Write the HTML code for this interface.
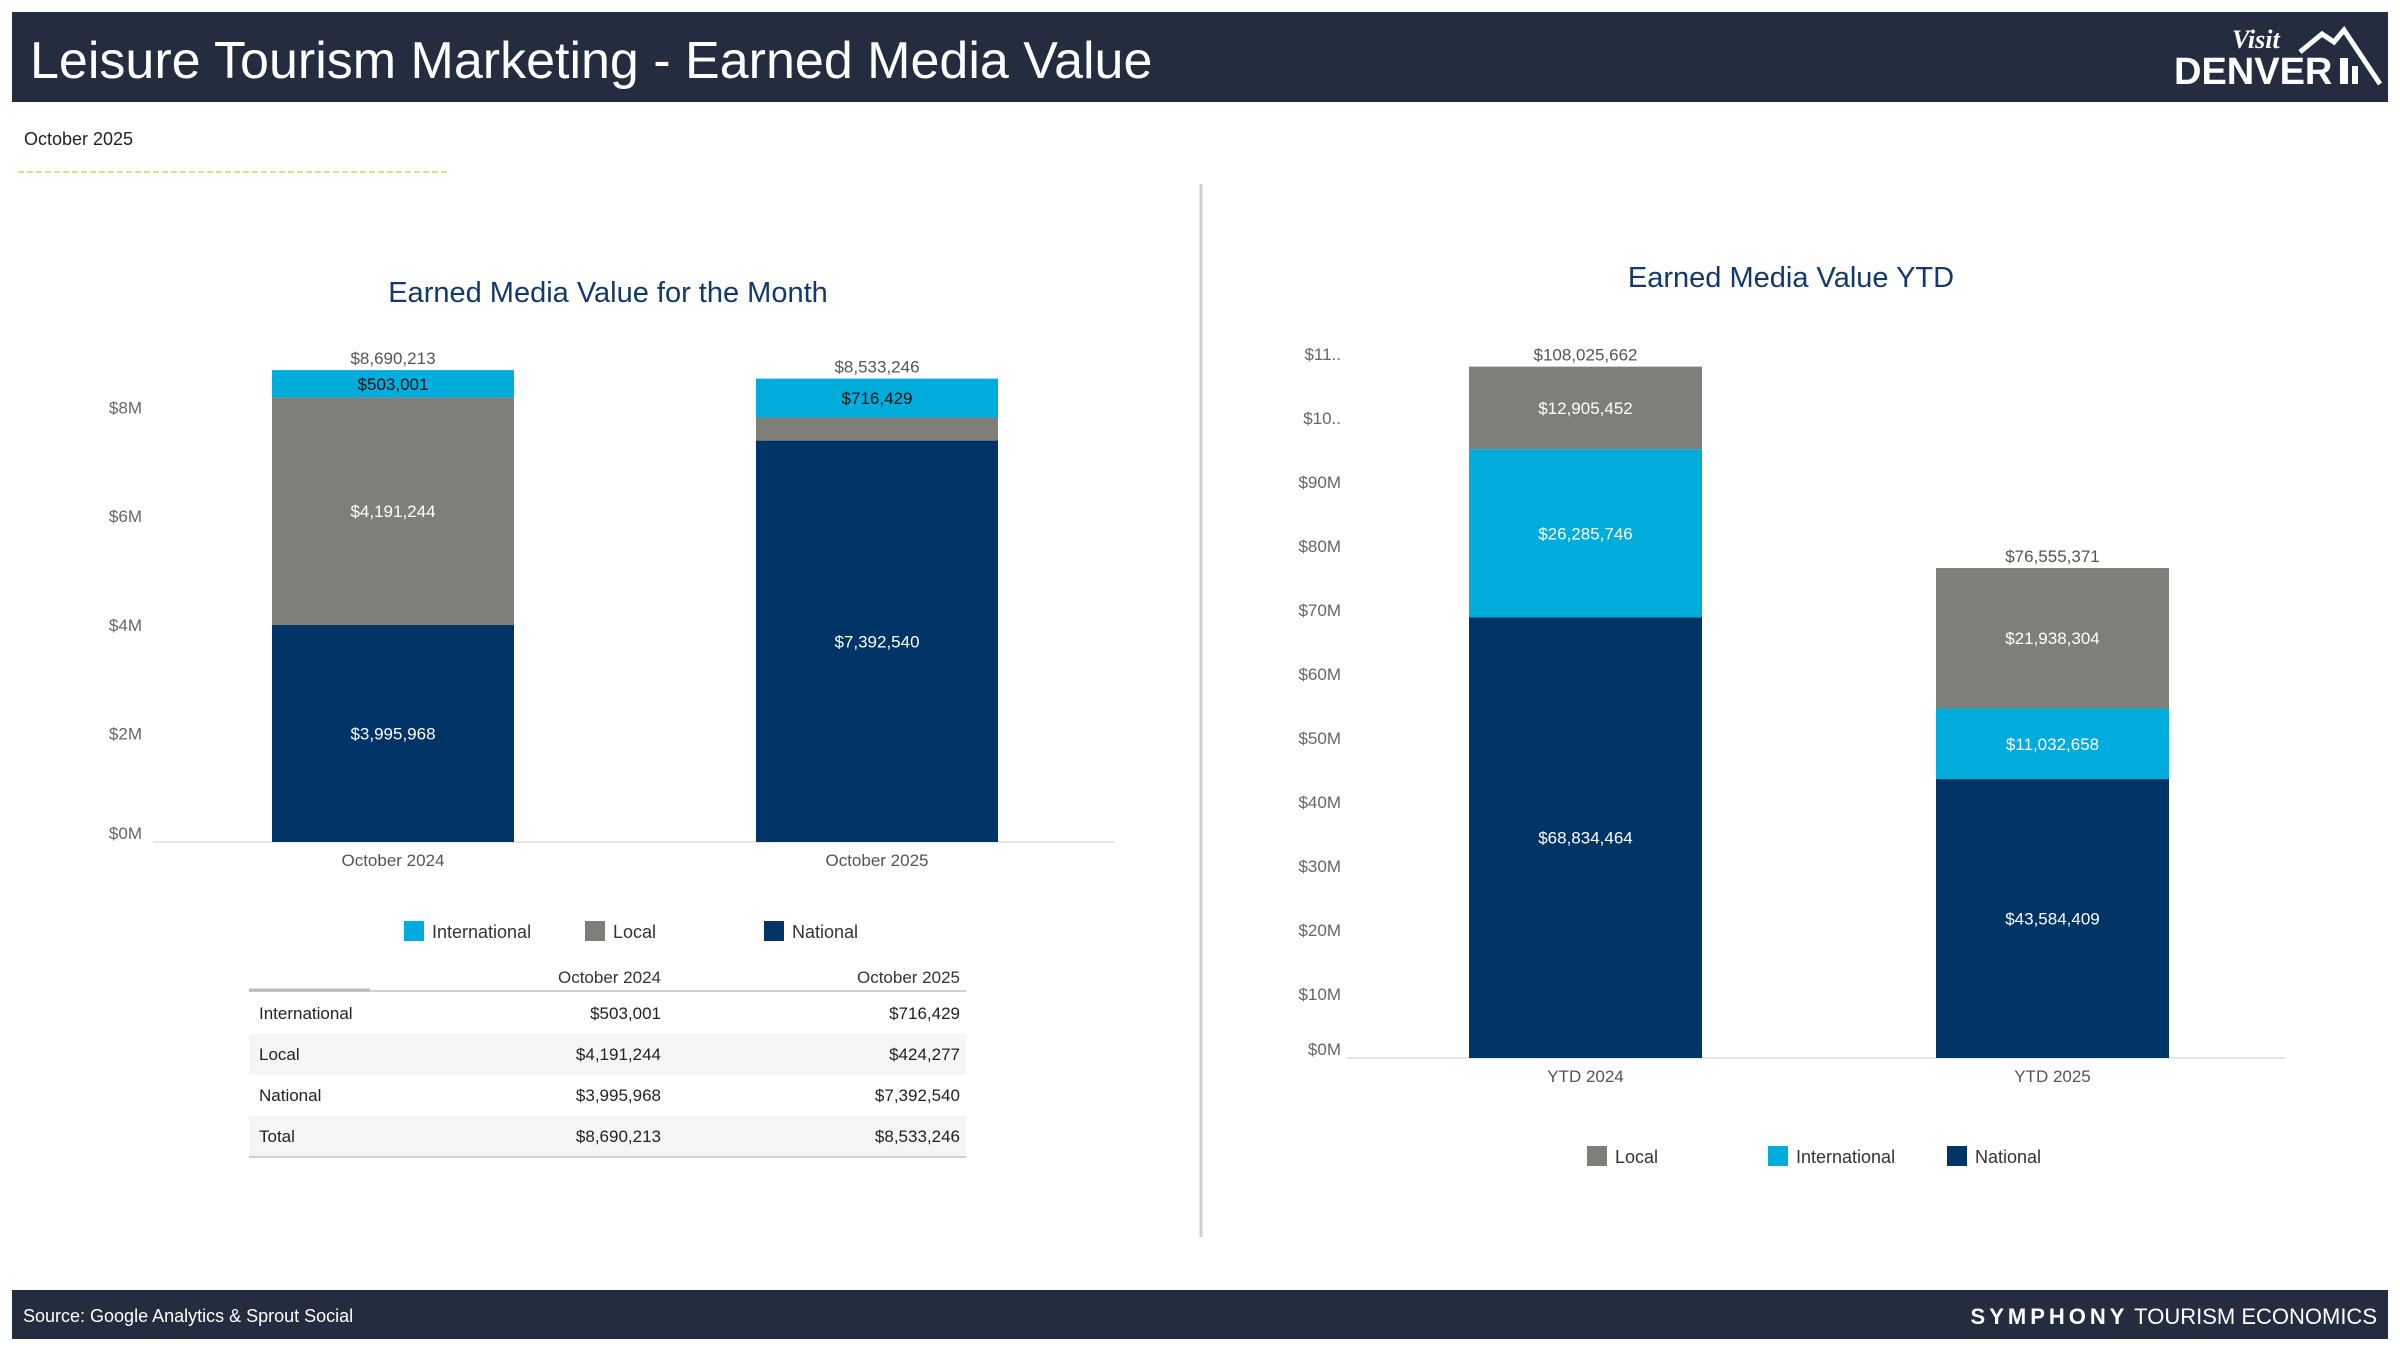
<!DOCTYPE html>
<html><head><meta charset="utf-8"><style>
html,body{margin:0;padding:0;background:#fff;}
svg{display:block;font-family:"Liberation Sans",sans-serif;}
</style></head><body>
<svg id="s" width="2400" height="1350" viewBox="0 0 2400 1350" xmlns="http://www.w3.org/2000/svg">
<rect x="12" y="12" width="2376" height="90" fill="#232d3f"/>
<text x="30" y="78" font-size="52" fill="#fff">Leisure Tourism Marketing - Earned Media Value</text>
<g>
<text x="2232" y="48" font-size="26" font-style="italic" font-weight="bold" fill="#fff" font-family="Liberation Serif,serif">Visit</text>
<text x="2174" y="84" font-size="38" font-weight="bold" fill="#fff">DENVER</text>
<polyline points="2300,52 2322,34 2334,42 2344,30 2380,84" fill="none" stroke="#fff" stroke-width="5"/>
<rect x="2340" y="58" width="8" height="26" fill="#fff"/><rect x="2352" y="66" width="6" height="18" fill="#fff"/>
</g>
<text x="24" y="145" font-size="18" fill="#222">October 2025</text>
<line x1="18" y1="172" x2="447" y2="172" stroke="#e8d890" stroke-width="2" stroke-dasharray="6,3"/>
<line x1="1201" y1="184" x2="1201" y2="1237" stroke="#d0d0d0" stroke-width="3"/>
<text x="608" y="302" font-size="29" fill="#13386b" text-anchor="middle">Earned Media Value for the Month</text>
<text x="1791" y="287" font-size="29" fill="#13386b" text-anchor="middle">Earned Media Value YTD</text>
<g id="left"></g><g id="right"></g><g id="tbl"></g>
<rect x="12" y="1290" width="2376" height="49" fill="#232d3f"/>
<text x="23" y="1322" font-size="18" fill="#fff">Source: Google Analytics &amp; Sprout Social</text>
<text x="2377" y="1324" font-size="22" fill="#fff" text-anchor="end"><tspan font-weight="bold" letter-spacing="4">SYMPHONY</tspan> TOURISM ECONOMICS</text>
</svg>
<script>
const NS="http://www.w3.org/2000/svg";
const COL={International:"#00acdc",Local:"#7f7f7a",National:"#003366"};
// Month chart data
const monthCats=["October 2024","October 2025"];
const monthNational=[3995968,7392540];
const monthLocal=[4191244,424277];
const monthIntl=[503001,716429];
const monthTicks=[0,2,4,6,8];
const monthTickLabels=["$0M","$2M","$4M","$6M","$8M"];
// YTD chart data
const ytdCats=["YTD 2024","YTD 2025"];
const ytdNational=[68834464,43584409];
const ytdIntl=[26285746,11032658];
const ytdLocal=[12905452,21938304];
const ytdTicks=[0,10,20,30,40,50,60,70,80,90,100,110];
const ytdTickLabels=["$0M","$10M","$20M","$30M","$40M","$50M","$60M","$70M","$80M","$90M","$10..","$11.."];

function el(p,t,a,txt){const e=document.createElementNS(NS,t);for(const k in a)e.setAttribute(k,a[k]);if(txt!==undefined)e.textContent=txt;p.appendChild(e);return e;}
function fmt(v){return "$"+v.toLocaleString("en-US");}

function chart(g,cfg){
  const y=v=>cfg.y0-v*cfg.pxPer;
  el(g,"line",{x1:cfg.ax0,x2:cfg.ax1,y1:cfg.y0,y2:cfg.y0,stroke:"#e6e6e6","stroke-width":2});
  cfg.ticks.forEach((t,i)=>{
    const ty=Math.min(y(t*1e6)+6,cfg.y0-3);
    const e=el(g,"text",{x:cfg.tx,y:ty,"font-size":17,fill:"#666","text-anchor":"end"},cfg.tickLabels[i]);
    
    
  });
  cfg.cats.forEach((c,i)=>{
    const x=cfg.bx[i];let base=0;
    cfg.series.forEach(s=>{
      const v=s.vals[i];
      const r=el(g,"rect",{x:x,y:y(base+v),width:cfg.bw,height:v*cfg.pxPer,fill:COL[s.name]});
      
      
      if(v*cfg.pxPer>25){
        const t=el(g,"text",{x:x+cfg.bw/2,y:y(base+v/2)+6,"font-size":17,fill:(s.dark?"#111":"#fff"),"text-anchor":"middle"},fmt(v));
        
        
      }
      base+=v;
    });
    const tt=el(g,"text",{x:x+cfg.bw/2,y:y(base)-6,"font-size":17,fill:"#555","text-anchor":"middle"},fmt(base));
    
    
    const cl=el(g,"text",{x:x+cfg.bw/2,y:cfg.y0+24,"font-size":17,fill:"#555","text-anchor":"middle"},c);
    
    
  });
  cfg.legend.forEach(l=>{
    const r=el(g,"rect",{x:l.x,y:cfg.ly-10,width:20,height:20,fill:COL[l.name]});
    
    
    const t=el(g,"text",{x:l.x+28,y:cfg.ly+7,"font-size":18,fill:"#333"},l.name);
    
    
  });
}
chart(document.getElementById("left"),{y0:842,pxPer:54.3/1e6,ax0:153,ax1:1114,tx:142,bx:[272,756],bw:242,
  cats:monthCats,ticks:monthTicks,tickLabels:monthTickLabels,
  series:[{name:"National",vals:monthNational},{name:"Local",vals:monthLocal},{name:"International",vals:monthIntl,dark:true}],
  ly:931,legend:[{name:"International",x:404},{name:"Local",x:585},{name:"National",x:764}]});
chart(document.getElementById("right"),{y0:1058,pxPer:64/1e7,ax0:1347,ax1:2285,tx:1341,bx:[1469,1936],bw:233,
  cats:ytdCats,ticks:ytdTicks,tickLabels:ytdTickLabels,
  series:[{name:"National",vals:ytdNational},{name:"International",vals:ytdIntl},{name:"Local",vals:ytdLocal}],
  ly:1156,legend:[{name:"Local",x:1587},{name:"International",x:1768},{name:"National",x:1947}]});

// table
const tg=document.getElementById("tbl");
const rowNames=["International","Local","National","Total"];
const rowsA=[monthIntl[0],monthLocal[0],monthNational[0],monthIntl[0]+monthLocal[0]+monthNational[0]];
const rowsB=[monthIntl[1],monthLocal[1],monthNational[1],monthIntl[1]+monthLocal[1]+monthNational[1]];
el(tg,"text",{x:661,y:983,"font-size":17,fill:"#333","text-anchor":"end"},"October 2024");
el(tg,"text",{x:960,y:983,"font-size":17,fill:"#333","text-anchor":"end"},"October 2025");
el(tg,"line",{x1:249,x2:966,y1:991,y2:991,stroke:"#d0d0d0","stroke-width":2});
el(tg,"line",{x1:249,x2:370,y1:990,y2:990,stroke:"#bbb","stroke-width":3});
rowNames.forEach((n,i)=>{
  const yc=1013+i*41;
  if(i%2==1){el(tg,"rect",{x:249,y:yc-20,width:717,height:41,fill:"#f5f5f5"});}
  const a=el(tg,"text",{x:259,y:yc+6,"font-size":17,fill:"#222"},n);
  
  
  el(tg,"text",{x:661,y:yc+6,"font-size":17,fill:"#222","text-anchor":"end"},fmt(rowsA[i]));
  el(tg,"text",{x:960,y:yc+6,"font-size":17,fill:"#222","text-anchor":"end"},fmt(rowsB[i]));
});
el(tg,"line",{x1:249,x2:966,y1:1157,y2:1157,stroke:"#d0d0d0","stroke-width":2});


</script>
</body></html>
